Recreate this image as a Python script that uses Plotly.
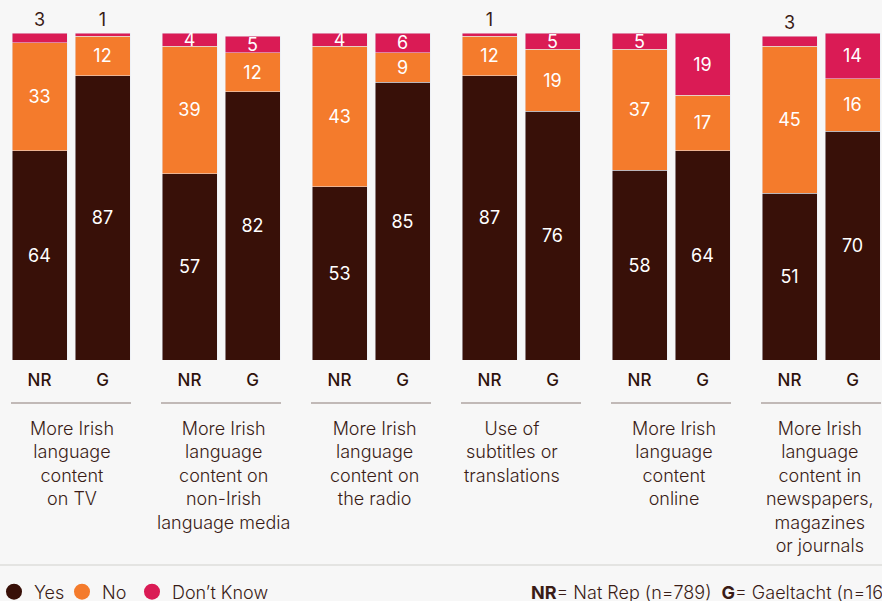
import plotly.graph_objects as go

categories = [
    "More Irish<br>language<br>content<br>on TV",
    "More Irish<br>language<br>content on<br>non-Irish<br>language media",
    "More Irish<br>language<br>content on<br>the radio",
    "Use of<br>subtitles or<br>translations",
    "More Irish<br>language<br>content<br>online",
    "More Irish<br>language<br>content in<br>newspapers,<br>magazines<br>or journals",
]
samples = ["NR", "G"]
yes_nr = [64, 57, 53, 87, 58, 51]
no_nr = [33, 39, 43, 12, 37, 45]
dk_nr = [3, 4, 4, 1, 5, 3]
yes_g = [87, 82, 85, 76, 64, 70]
no_g = [12, 12, 9, 19, 17, 16]
dk_g = [1, 5, 6, 5, 19, 14]
legend_names = ["Yes", "No", "Don\u2019t Know"]

YES_C = "#381008"
NO_C = "#f47b2c"
DK_C = "#da1b55"
BG = "#f7f7f7"
TXT = "#3a1c16"
FONT = "Inter"

W, H = 882, 601
TOP, BOTTOM = 33, 241
PLOT_H = H - TOP - BOTTOM

GROUP_STEP = 150
NR_OFF = 39.5
G_OFF = 102.5
BAR_W = 55
LABEL_DX = [1, 2, 3, -9, 3, -1]

n = len(categories)
x_nr = [NR_OFF + GROUP_STEP * i for i in range(n)]
x_g = [G_OFF + GROUP_STEP * i for i in range(n)]
xs = []
yes, no, dk = [], [], []
for i in range(n):
    xs += [x_nr[i], x_g[i]]
    yes += [yes_nr[i], yes_g[i]]
    no += [no_nr[i], no_g[i]]
    dk += [dk_nr[i], dk_g[i]]


def py(p):
    return (H - BOTTOM - p) / PLOT_H


fig = go.Figure()
fig.add_bar(x=xs, y=yes, width=BAR_W, marker_color=YES_C, text=[str(v) for v in yes],
            textposition="inside", insidetextanchor="middle", textangle=0, constraintext="none",
            textfont=dict(color="white", size=18, family=FONT), showlegend=False, hoverinfo="skip")
fig.add_bar(x=xs, y=no, width=BAR_W, marker_color=NO_C, text=[str(v) for v in no],
            textposition="inside", insidetextanchor="middle", textangle=0, constraintext="none",
            textfont=dict(color="white", size=18, family=FONT), showlegend=False, hoverinfo="skip")
fig.add_bar(x=xs, y=dk, width=BAR_W, marker_color=DK_C, text=[str(v) for v in dk],
            textposition=["outside" if v <= 3 else "inside" for v in dk],
            insidetextanchor="middle", textangle=0, constraintext="none", cliponaxis=False,
            textfont=dict(color=[TXT if v <= 3 else "white" for v in dk], size=18, family=FONT),
            showlegend=False, hoverinfo="skip")

legend_ids = ["legend", "legend2", "legend3"]
legend_left_px = [-6, 62, 132]
for name, col, lid in zip(legend_names, [YES_C, NO_C, DK_C], legend_ids):
    fig.add_scatter(x=[None], y=[None], mode="markers", name=name, legend=lid,
                    marker=dict(symbol="circle", size=16, color=col))

annotations = []
shapes = []
for i, cat in enumerate(categories):
    cx = (x_nr[i] + x_g[i]) / 2 + LABEL_DX[i]
    annotations.append(dict(x=cx, y=py(416), xref="x", yref="paper", text=cat, showarrow=False,
                            xanchor="center", yanchor="top", align="center",
                            font=dict(size=18, color=TXT, family=FONT, weight=300)))
    shapes.append(dict(type="line", xref="x", yref="paper",
                       x0=x_nr[i] - BAR_W / 2 - 1, x1=x_g[i] + BAR_W / 2 + 1,
                       y0=py(403), y1=py(403), line=dict(color="#8c7c79", width=1.2)))

shapes.append(dict(type="line", xref="paper", yref="paper", x0=0, x1=1, y0=py(565), y1=py(565),
                   line=dict(color="#e4e4e2", width=2)))

annotations.append(dict(x=529 / W, y=py(592), xref="paper", yref="paper",
                        text="<b>NR</b>= Nat Rep (n=789)  <b>G</b>= Gaeltacht (n=167)",
                        showarrow=False, xanchor="left", yanchor="middle",
                        font=dict(size=18, color=TXT, family=FONT, weight=300)))

legend_common = dict(orientation="h", y=py(592), xanchor="left", yanchor="middle",
                     font=dict(size=18, color=TXT, family=FONT, weight=300),
                     bgcolor="rgba(0,0,0,0)", itemclick=False, itemdoubleclick=False)
legends = {}
for lid, lx in zip(legend_ids, legend_left_px):
    legends[lid] = dict(legend_common, x=lx / W)

fig.update_layout(
    width=W, height=H, barmode="stack",
    paper_bgcolor=BG, plot_bgcolor=BG,
    margin=dict(l=0, r=0, t=TOP, b=BOTTOM, autoexpand=False),
    xaxis=dict(range=[0, W], tickvals=xs, ticktext=samples * n, showgrid=False, zeroline=False,
               showline=False, ticks="", ticklabelstandoff=8, automargin=False,
               tickfont=dict(size=17, color="#2e120c", family=FONT, weight=500)),
    yaxis=dict(range=[0, 100], visible=False, showgrid=False, automargin=False),
    shapes=shapes, annotations=annotations,
    showlegend=True,
    **legends,
)

fig.write_html("out.html", config={"displayModeBar": False},
               post_script="document.body.style.margin='0';document.body.style.overflow='hidden';document.body.style.background='%s';" % BG)
